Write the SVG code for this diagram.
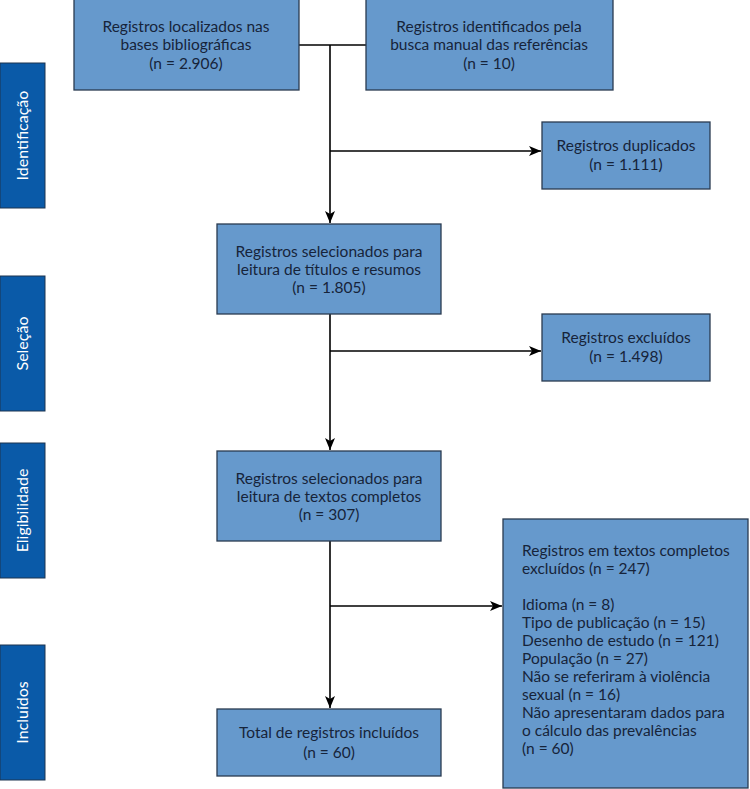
<svg xmlns="http://www.w3.org/2000/svg" width="750" height="789" viewBox="0 0 750 789">
<defs>
<style>
.box{fill:#6699CC;stroke:#2a3b50;stroke-width:1.3}
.side{fill:#0A5AA8;stroke:#1d3550;stroke-width:1}
.t{font-family:Lato,"Open Sans","Noto Sans",sans-serif;font-size:15.5px;fill:#16243a;text-anchor:middle}
.tl{text-anchor:start}
.s{font-family:Lato,"Open Sans","Noto Sans",sans-serif;font-size:16px;fill:#ffffff;text-anchor:middle}
.c{fill:none;stroke:#000;stroke-width:1.6}
</style>
<marker id="ah" viewBox="0 0 12 10" refX="12" refY="5" markerWidth="12" markerHeight="10" markerUnits="userSpaceOnUse" orient="auto">
<path d="M0,0 L12,5 L0,10 L3,5 Z" fill="#000"/>
</marker>
</defs>
<rect width="750" height="789" fill="#fff"/>
<g id="lbl-identificacao"><rect class="side" x="0" y="63" width="45" height="145"/><text class="s" transform="translate(28,135.5) rotate(-90)">Identificação</text></g>
<g id="lbl-selecao"><rect class="side" x="0" y="276" width="45" height="135"/><text class="s" transform="translate(28,343.5) rotate(-90)">Seleção</text></g>
<g id="lbl-elegibilidade"><rect class="side" x="0" y="443" width="45" height="135"/><text class="s" transform="translate(28,510.5) rotate(-90)">Eligibilidade</text></g>
<g id="lbl-incluidos"><rect class="side" x="0" y="645" width="45" height="135"/><text class="s" transform="translate(28,712.5) rotate(-90)">Incluídos</text></g>
<g id="connectors">
<path class="c" d="M299,45 H366"/>
<path class="c" d="M330,45 V223" marker-end="url(#ah)"/>
<path class="c" d="M330,151 H541" marker-end="url(#ah)"/>
<path class="c" d="M330,314 V450" marker-end="url(#ah)"/>
<path class="c" d="M330,351 H541" marker-end="url(#ah)"/>
<path class="c" d="M330,541 V708" marker-end="url(#ah)"/>
<path class="c" d="M330,606 H502" marker-end="url(#ah)"/>
</g>
<g id="n-bases"><rect class="box" x="74" y="-1" width="225" height="91"/>
<text class="t" x="186" y="32">Registros localizados nas</text>
<text class="t" x="186" y="50">bases bibliográficas</text>
<text class="t" x="186" y="69">(n = 2.906)</text></g>
<g id="n-manual"><rect class="box" x="366" y="-1" width="247" height="91"/>
<text class="t" x="489" y="32">Registros identificados pela</text>
<text class="t" x="489" y="50">busca manual das referências</text>
<text class="t" x="489" y="69">(n = 10)</text></g>
<g id="n-duplicados"><rect class="box" x="542" y="122" width="168" height="67"/>
<text class="t" x="626" y="151">Registros duplicados</text>
<text class="t" x="626" y="170">(n = 1.111)</text></g>
<g id="n-titulos"><rect class="box" x="217" y="224" width="224" height="90"/>
<text class="t" x="329" y="257">Registros selecionados para</text>
<text class="t" x="329" y="275">leitura de títulos e resumos</text>
<text class="t" x="329" y="293">(n = 1.805)</text></g>
<g id="n-excluidos"><rect class="box" x="542" y="314" width="168" height="67"/>
<text class="t" x="626" y="343">Registros excluídos</text>
<text class="t" x="626" y="362">(n = 1.498)</text></g>
<g id="n-textos"><rect class="box" x="217" y="451" width="224" height="90"/>
<text class="t" x="329" y="484">Registros selecionados para</text>
<text class="t" x="329" y="502">leitura de textos completos</text>
<text class="t" x="329" y="520">(n = 307)</text></g>
<g id="n-excl-textos"><rect class="box" x="503" y="519" width="245" height="269"/>
<text class="t tl" x="522" y="556">Registros em textos completos</text>
<text class="t tl" x="522" y="574">excluídos (n = 247)</text>
<text class="t tl" x="522" y="610">Idioma (n = 8)</text>
<text class="t tl" x="522" y="628">Tipo de publicação (n = 15)</text>
<text class="t tl" x="522" y="646">Desenho de estudo (n = 121)</text>
<text class="t tl" x="522" y="664">População (n = 27)</text>
<text class="t tl" x="522" y="682">Não se referiram à violência</text>
<text class="t tl" x="522" y="700">sexual (n = 16)</text>
<text class="t tl" x="522" y="718">Não apresentaram dados para</text>
<text class="t tl" x="522" y="736">o cálculo das prevalências</text>
<text class="t tl" x="522" y="754">(n = 60)</text></g>
<g id="n-incluidos"><rect class="box" x="217" y="709" width="224" height="67"/>
<text class="t" x="329" y="738">Total de registros incluídos</text>
<text class="t" x="329" y="758">(n = 60)</text></g>
</svg>
